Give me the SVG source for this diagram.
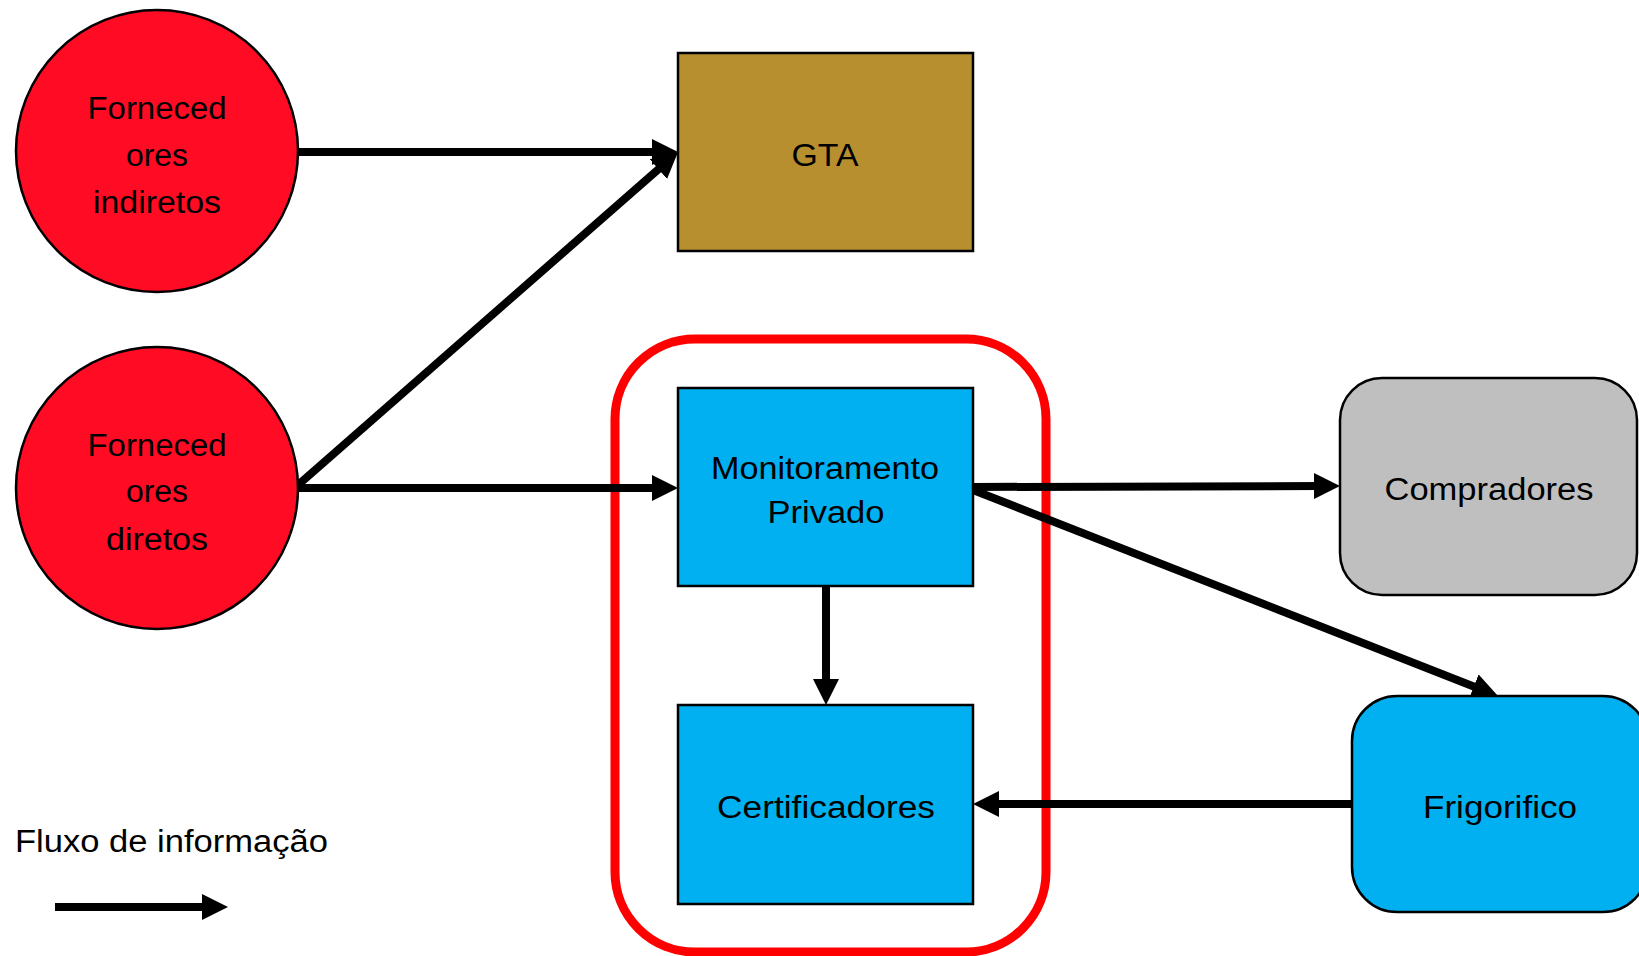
<svg xmlns="http://www.w3.org/2000/svg" width="1639" height="956" viewBox="0 0 1639 956">
<defs>
<style>
.lbl{font-family:"Liberation Sans","Open Sans",Arial,sans-serif;font-size:31px;fill:#000;text-anchor:middle}
.box{stroke:#000;stroke-width:2.5}
.con{stroke:#000;stroke-width:8;fill:none;marker-end:url(#ah)}
</style>
<marker id="ah" markerUnits="userSpaceOnUse" viewBox="0 0 26 26" refX="6" refY="13" markerWidth="26" markerHeight="26" orient="auto">
<path d="M0,0 L26,13 L0,26 z" fill="#000"/>
</marker>
</defs>
<rect width="1639" height="956" fill="#fff"/>

<g id="grupo-privado">
<rect x="615" y="339" width="431" height="613" rx="80" ry="80" fill="none" stroke="#FF0000" stroke-width="9"/>
</g>

<g id="connectors">
<line class="con" x1="298" y1="152" x2="658" y2="152"/>
<line class="con" x1="298" y1="485" x2="663" y2="165.2"/>
<line class="con" x1="298" y1="488" x2="658" y2="488"/>
<line class="con" x1="973" y1="487" x2="1320" y2="486"/>
<line class="con" x1="973" y1="490" x2="1479.4" y2="688.7"/>
<line class="con" x1="826" y1="586" x2="826" y2="685"/>
<line class="con" x1="1352" y1="804" x2="993" y2="804"/>
</g>

<g id="fornecedores-indiretos">
<circle class="box" cx="157" cy="151" r="141" fill="#FF0B24"/>
<text class="lbl" x="157" y="119" textLength="139" lengthAdjust="spacingAndGlyphs">Forneced</text>
<text class="lbl" x="157" y="166" textLength="62" lengthAdjust="spacingAndGlyphs">ores</text>
<text class="lbl" x="157" y="213" textLength="128" lengthAdjust="spacingAndGlyphs">indiretos</text>
</g>

<g id="fornecedores-diretos">
<circle class="box" cx="157" cy="488" r="141" fill="#FF0B24"/>
<text class="lbl" x="157" y="456" textLength="139" lengthAdjust="spacingAndGlyphs">Forneced</text>
<text class="lbl" x="157" y="502" textLength="62" lengthAdjust="spacingAndGlyphs">ores</text>
<text class="lbl" x="157" y="550" textLength="102" lengthAdjust="spacingAndGlyphs">diretos</text>
</g>

<g id="gta">
<rect class="box" x="678" y="53" width="295" height="198" fill="#B88F2F"/>
<text class="lbl" x="825" y="166" textLength="67" lengthAdjust="spacingAndGlyphs">GTA</text>
</g>

<g id="monitoramento-privado">
<rect class="box" x="678" y="388" width="295" height="198" fill="#00B0F0"/>
<text class="lbl" x="825" y="479" textLength="228" lengthAdjust="spacingAndGlyphs">Monitoramento</text>
<text class="lbl" x="826" y="523" textLength="117" lengthAdjust="spacingAndGlyphs">Privado</text>
</g>

<g id="certificadores">
<rect class="box" x="678" y="705" width="295" height="199" fill="#00B0F0"/>
<text class="lbl" x="826" y="818" textLength="218" lengthAdjust="spacingAndGlyphs">Certificadores</text>
</g>

<g id="compradores">
<rect class="box" x="1340" y="378" width="297" height="217" rx="42" ry="42" fill="#BFBFBF"/>
<text class="lbl" x="1489" y="500" textLength="209" lengthAdjust="spacingAndGlyphs">Compradores</text>
</g>

<g id="frigorifico">
<rect class="box" x="1352" y="696" width="296" height="216" rx="45" ry="45" fill="#00B0F0"/>
<text class="lbl" x="1500" y="818" textLength="154" lengthAdjust="spacingAndGlyphs">Frigorifico</text>
</g>

<g id="legenda">
<text class="lbl" x="15" y="852" style="text-anchor:start" textLength="313" lengthAdjust="spacingAndGlyphs">Fluxo de informação</text>
<line class="con" x1="55" y1="907" x2="208" y2="907"/>
</g>
</svg>
